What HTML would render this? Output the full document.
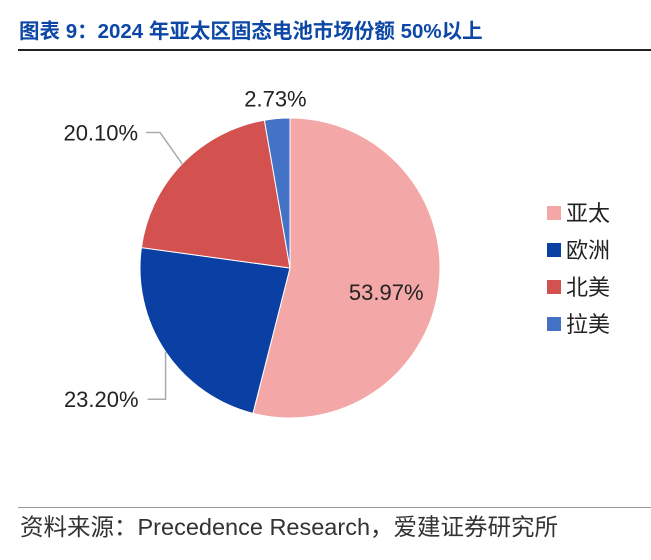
<!DOCTYPE html>
<html><head><meta charset="utf-8">
<style>
html,body{margin:0;padding:0;background:#fff;}
body{width:651px;height:555px;overflow:hidden;font-family:"Liberation Sans","Noto Sans CJK SC",sans-serif;}
</style></head>
<body>
<svg id="chart" width="651" height="555" xmlns="http://www.w3.org/2000/svg" font-family="Liberation Sans, Noto Sans CJK SC, sans-serif">
<text x="19" y="38" font-size="20.5" font-weight="bold" fill="#0c47a6">图表 9：2024 年亚太区固态电池市场份额 50%以上</text>
<rect x="18" y="49" width="633" height="2" fill="#222"/>
<g id="slices"></g>
<g id="labels"></g>
<g id="legend"></g>
<rect x="18" y="507" width="633" height="1" fill="#999"/>
<text x="20" y="535" font-size="23.5" fill="#333">资料来源：Precedence Research，爱建证券研究所</text>
</svg>
<script>
const categories=["亚太","欧洲","北美","拉美"];
const values=[53.97,23.20,20.10,2.73];
const valueLabels=["53.97%","23.20%","20.10%","2.73%"];
const colors=["#f4a7a7","#0a3fa3","#d3514f","#4472c4"];
const NS="http://www.w3.org/2000/svg";
const cx=290,cy=268,r=150;
const total=values.reduce((a,b)=>a+b,0);
const sl=document.getElementById('slices'),lb=document.getElementById('labels'),lg=document.getElementById('legend');
function pt(a,rr){return [cx+rr*Math.sin(a),cy-rr*Math.cos(a)];}
function mk(tag,attrs){const e=document.createElementNS(NS,tag);for(const k in attrs)e.setAttribute(k,attrs[k]);return e;}
let acc=0;
values.forEach((v,i)=>{
  const a0=acc/total*2*Math.PI;acc+=v;const a1=acc/total*2*Math.PI;
  const p0=pt(a0,r),p1=pt(a1,r);
  const large=(a1-a0)>Math.PI?1:0;
  const p=mk('path',{d:`M${cx},${cy}L${p0[0]},${p0[1]}A${r},${r} 0 ${large} 1 ${p1[0]},${p1[1]}Z`,fill:colors[i],stroke:'#fff','stroke-width':1});
  
  
  sl.appendChild(p);
  const mid=(a0+a1)/2;
  let tx,ty,anchor='middle';
  if(i===0){const q=pt(mid,97);tx=q[0];ty=q[1]+20;}
  else if(i===3){const q=pt(mid,170);tx=q[0];ty=q[1]+8;}
  else{
    const e=pt(mid,r);
    const c=Math.cos(mid);
    const elx=c>0?e[0]-22:e[0];
    const ely=cy-(r+(c>0?45:85))*c;
    const ex=elx-(c>0?14:18);
    tx=ex-(c>0?8:9);ty=ely+8;anchor='end';
    const ln=mk('polyline',{points:`${e[0]},${e[1]} ${elx},${ely} ${ex},${ely}`,fill:'none',stroke:'#aaa','stroke-width':1.5});
    
    
    lb.appendChild(ln);
  }
  const t=mk('text',{x:tx,y:ty,'text-anchor':anchor,'font-size':22,fill:'#222'});
  t.textContent=valueLabels[i];
  
  
  lb.appendChild(t);
  const y=213+i*37;
  const s=mk('rect',{x:547,y:y-7,width:14,height:14,fill:colors[i]});
  
  
  lg.appendChild(s);
  const lt=mk('text',{x:566,y:y+8,'font-size':22,fill:'#222'});
  lt.textContent=categories[i];
  
  
  lg.appendChild(lt);
});
</script>
</body></html>
